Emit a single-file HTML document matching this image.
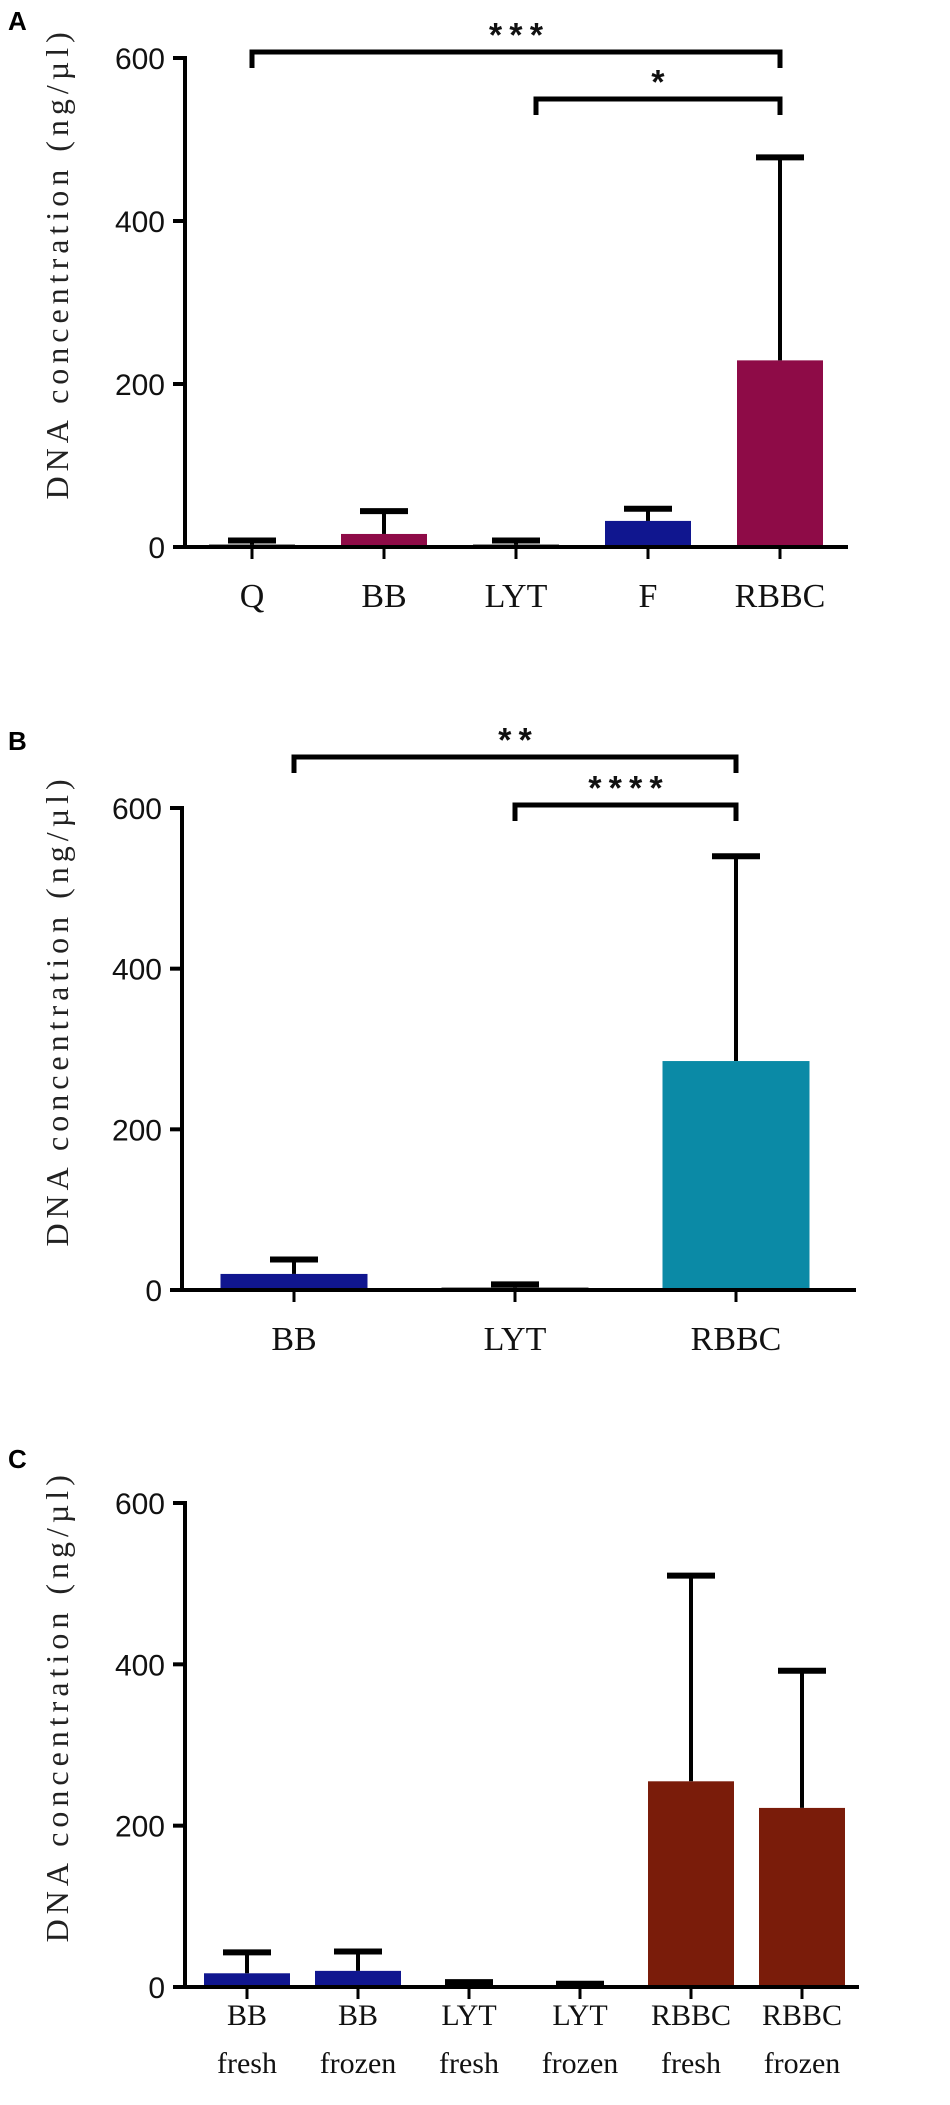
<!DOCTYPE html>
<html><head><meta charset="utf-8"><style>
html,body{margin:0;padding:0;background:#fff}
svg{display:block}
.tk{font-family:"Liberation Sans",sans-serif;font-size:30px;fill:#111}
.cat{font-family:"Liberation Serif",serif;font-size:34px;fill:#111}
.catc{font-family:"Liberation Serif",serif;font-size:30px;fill:#111}
.yt{font-family:"Liberation Serif",serif;font-size:32px;letter-spacing:5px;fill:#222}
.pl{font-family:"Liberation Sans",sans-serif;font-weight:bold;font-size:26px;fill:#000}
.st{font-family:"Liberation Mono",monospace;font-size:34px;font-weight:bold;fill:#111}
</style></head><body>
<svg id="fig" width="950" height="2105" viewBox="0 0 950 2105" xmlns="http://www.w3.org/2000/svg"></svg>
<script>
// Panel A data
const catsA = ["Q","BB","LYT","F","RBBC"];
const valsA = [3, 16, 3, 32, 229];
const errA = [8, 44, 8, 47, 478];
const colA = ["#111","#8e0b47","#111","#10168f","#8e0b47"];
// Panel B data
const catsB = ["BB","LYT","RBBC"];
const valsB = [20, 3, 285];
const errB = [38, 7, 540];
const colB = ["#10168f","#111","#0b8aa6"];
// Panel C data
const catsC = [["BB","fresh"],["BB","frozen"],["LYT","fresh"],["LYT","frozen"],["RBBC","fresh"],["RBBC","frozen"]];
const valsC = [17, 20, 2, 1, 255, 222];
const errC = [43, 44, 6, 4, 510, 392];
const colC = ["#10168f","#10168f","#111","#111","#7a1c0a","#7a1c0a"];
const ticks = [0, 200, 400, 600];

const NS = "http://www.w3.org/2000/svg";
const svg = document.getElementById("fig");
function mk(tag, attrs, parent, text){
  const e = document.createElementNS(NS, tag);
  for (const k in attrs) e.setAttribute(k, attrs[k]);
  if (text !== undefined) e.textContent = text;
  (parent || svg).appendChild(e);
  return e;
}

function panel(cfg){
  const g = mk("g", {});
  
  
  const y = v => cfg.y0 - (v / 600) * (cfg.y0 - cfg.y600);
  const x = i => cfg.x1 + i * cfg.step;
  const lab = mk("text", {x: 8, y: cfg.labY, class: "pl"}, g, cfg.letter);
  
  
  const ty = cfg.y600 + 0.42 * (cfg.y0 - cfg.y600);
  const t = mk("text", {x: 57, y: ty, class: "yt", "text-anchor": "middle", transform: `rotate(-90 57 ${ty})`, "dominant-baseline": "central"}, g, "DNA concentration (ng/µl)");
  
  
  cfg.vals.forEach((v, i) => {
    const cx = x(i);
    const b = mk("rect", {x: cx - cfg.bw/2, y: y(v), width: cfg.bw, height: cfg.y0 - y(v), fill: cfg.cols[i]}, g);
    
    
    const e = mk("line", {x1: cx, x2: cx, y1: y(v), y2: y(cfg.err[i]), stroke: "#000", "stroke-width": 4}, g);
    
    
    const c = mk("line", {x1: cx - 24, x2: cx + 24, y1: y(cfg.err[i]), y2: y(cfg.err[i]), stroke: "#000", "stroke-width": 6}, g);
    
    
    mk("line", {x1: cx, x2: cx, y1: cfg.y0, y2: cfg.y0 + 12, stroke: "#000", "stroke-width": 3}, g);
    const lines = Array.isArray(cfg.cats[i]) ? cfg.cats[i] : [cfg.cats[i]];
    lines.forEach((s, k) => {
      const tl = mk("text", {x: cx, y: cfg.y0 + cfg.lab0 + k * cfg.labStep, class: cfg.catClass, "text-anchor": "middle"}, g, s);
      
      
    });
  });
  const ya = mk("line", {x1: cfg.ax, x2: cfg.ax, y1: cfg.y600 - 2, y2: cfg.y0 + 2, stroke: "#000", "stroke-width": 4}, g);
  
  
  const xa = mk("line", {x1: cfg.ax - 12, x2: cfg.xend, y1: cfg.y0, y2: cfg.y0, stroke: "#000", "stroke-width": 4}, g);
  
  
  ticks.forEach(tv => {
    mk("line", {x1: cfg.ax - 12, x2: cfg.ax, y1: y(tv), y2: y(tv), stroke: "#000", "stroke-width": 4}, g);
    const tl = mk("text", {x: cfg.ax - 20, y: y(tv) + 11, class: "tk", "text-anchor": "end"}, g, String(tv));
    
    
  });
  (cfg.sig || []).forEach(s => {
    const xa1 = x(s.from) + (s.dx || 0), xb = x(s.to);
    const p = mk("path", {d: `M${xa1} ${s.y + 16} V${s.y} H${xb} V${s.y + 16}`, fill: "none", stroke: "#000", "stroke-width": 5}, g);
    
    
    const st = mk("text", {x: (xa1 + xb) / 2, y: s.y - 4, class: "st", "text-anchor": "middle"}, g, s.label);
    
    
  });
}

panel({name: "panel-a", letter: "A", labY: 30, ax: 185, y0: 547, y600: 58, x1: 252, step: 132, bw: 86, xend: 848,
  cats: catsA, vals: valsA, err: errA, cols: colA, lab0: 60, labStep: 0, catClass: "cat",
  sig: [{from: 0, to: 4, y: 52, label: "***"}, {from: 2, to: 4, y: 99, label: "*", dx: 20}]});
panel({name: "panel-b", letter: "B", labY: 750, ax: 182, y0: 1290, y600: 808, x1: 294, step: 221, bw: 147, xend: 856,
  cats: catsB, vals: valsB, err: errB, cols: colB, lab0: 60, labStep: 0, catClass: "cat",
  sig: [{from: 0, to: 2, y: 757, label: "**"}, {from: 1, to: 2, y: 805, label: "****"}]});
panel({name: "panel-c", letter: "C", labY: 1468, ax: 185, y0: 1987, y600: 1503, x1: 247, step: 111, bw: 86, xend: 859,
  cats: catsC, vals: valsC, err: errC, cols: colC, lab0: 38, labStep: 48, catClass: "catc"});
</script>
</body></html>
